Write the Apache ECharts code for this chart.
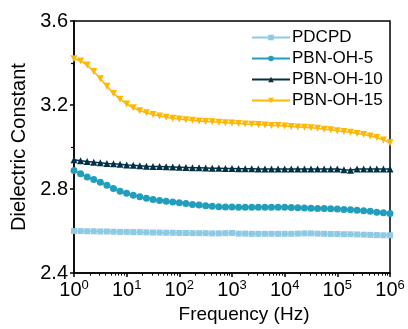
<!DOCTYPE html>
<html>
<head>
<meta charset="utf-8">
<script src="https://cdn.jsdelivr.net/npm/echarts@6/dist/echarts.min.js"></script>
<style>html,body{margin:0;padding:0;background:#fff;}#c{width:408px;height:329px;}</style>
</head>
<body>
<div id="c"></div>
<script>
const seriesNames = ['PDCPD', 'PBN-OH-5', 'PBN-OH-10', 'PBN-OH-15'];
const frequency = [
  1, 1.334, 1.778, 2.371, 3.162, 4.217, 5.623, 7.499,
  10, 13.34, 17.78, 23.71, 31.62, 42.17, 56.23, 74.99,
  100, 133.4, 177.8, 237.1, 316.2, 421.7, 562.3, 749.9,
  1000, 1334, 1778, 2371, 3162, 4217, 5623, 7499,
  10000, 13340, 17780, 23710, 31620, 42170, 56230, 74990,
  100000, 133400, 177800, 237100, 316200, 421700, 562300, 749900,
  1000000
];
const pdcpd = [
  2.600, 2.600, 2.599, 2.599, 2.598, 2.598, 2.597, 2.596,
  2.596, 2.595, 2.595, 2.594, 2.593, 2.593, 2.592, 2.592,
  2.591, 2.591, 2.590, 2.590, 2.590, 2.589, 2.589, 2.590,
  2.591, 2.588, 2.588, 2.587, 2.587, 2.587, 2.587, 2.587,
  2.587, 2.587, 2.588, 2.589, 2.589, 2.588, 2.587, 2.586,
  2.586, 2.585, 2.585, 2.584, 2.583, 2.582, 2.581, 2.580,
  2.580
];
const pbnOh5 = [
  2.888, 2.873, 2.858, 2.845, 2.833, 2.818, 2.803, 2.790,
  2.780, 2.771, 2.763, 2.756, 2.750, 2.746, 2.742, 2.738,
  2.735, 2.731, 2.727, 2.724, 2.721, 2.718, 2.716, 2.715,
  2.715, 2.714, 2.714, 2.714, 2.713, 2.713, 2.713, 2.713,
  2.713, 2.712, 2.711, 2.710, 2.709, 2.708, 2.707, 2.706,
  2.705, 2.703, 2.701, 2.699, 2.697, 2.694, 2.690, 2.687,
  2.684
];
const pbnOh10 = [
  2.940, 2.935, 2.931, 2.928, 2.925, 2.922, 2.920, 2.918,
  2.915, 2.913, 2.911, 2.909, 2.908, 2.907, 2.906, 2.905,
  2.904, 2.903, 2.902, 2.901, 2.900, 2.899, 2.899, 2.898,
  2.898, 2.897, 2.897, 2.897, 2.896, 2.896, 2.896, 2.896,
  2.896, 2.896, 2.895, 2.895, 2.895, 2.895, 2.895, 2.895,
  2.895, 2.892, 2.890, 2.895, 2.896, 2.896, 2.896, 2.896,
  2.896
];
const pbnOh15 = [
  3.420, 3.410, 3.390, 3.360, 3.325, 3.290, 3.255, 3.228,
  3.205, 3.187, 3.173, 3.163, 3.155, 3.148, 3.142, 3.137,
  3.133, 3.130, 3.127, 3.124, 3.122, 3.120, 3.118, 3.116,
  3.114, 3.112, 3.110, 3.109, 3.107, 3.105, 3.103, 3.102,
  3.100, 3.098, 3.096, 3.094, 3.092, 3.089, 3.085, 3.082,
  3.078, 3.074, 3.070, 3.065, 3.060, 3.053, 3.045, 3.034,
  3.020
];
const yTicks = [2.4, 2.8, 3.2, 3.6];
const xDecades = [1, 10, 100, 1000, 10000, 100000, 1000000];

const FONT = 'Liberation Sans, Arial, sans-serif';
const colors = ['#8ECAE6', '#219EBC', '#023047', '#FFB703'];
const symbols = ['rect', 'circle', 'triangle', 'triangle'];
const rotations = [0, 0, 0, 180];
const values = [pdcpd, pbnOh5, pbnOh10, pbnOh15];

const chart = echarts.init(document.getElementById('c'), null, { renderer: 'canvas' });
chart.setOption({
  animation: false,
  backgroundColor: '#fff',
  textStyle: { fontFamily: FONT },
  grid: {
    show: true, borderColor: '#000', borderWidth: 1.5, backgroundColor: 'transparent',
    left: 74, right: 18, top: 21, bottom: 54
  },
  legend: {
    orient: 'vertical',
    left: 246,
    top: 24,
    itemWidth: 38,
    itemHeight: 7,
    itemGap: 4,
    textStyle: { fontSize: 17, color: '#000', fontFamily: FONT, padding: [0, 0, 0, -3] },
    data: seriesNames
  },
  xAxis: {
    type: 'log',
    min: xDecades[0],
    max: xDecades[xDecades.length - 1],
    logBase: 10,
    name: 'Frequency (Hz)',
    nameLocation: 'middle',
    nameGap: 29,
    nameTextStyle: { fontSize: 19, color: '#000', fontFamily: FONT, padding: [0, 0, 0, 24] },
    axisLine: { lineStyle: { color: '#000', width: 1.5 } },
    axisTick: { inside: false, length: 4, lineStyle: { color: '#000', width: 1.5 } },
    minorTick: { show: true, splitNumber: 9, length: 2.5, lineStyle: { color: '#000', width: 1 } },
    splitLine: { show: false },
    minorSplitLine: { show: false },
    axisLabel: {
      margin: 6,
      color: '#000',
      formatter: function (v) {
        const e = Math.round(Math.log10(v));
        return '{b|10}{s|' + e + '}';
      },
      rich: {
        b: { fontSize: 20, fontFamily: FONT, color: '#000', lineHeight: 22 },
        s: { fontSize: 13, fontFamily: FONT, color: '#000', verticalAlign: 'top', lineHeight: 13 }
      }
    }
  },
  yAxis: {
    type: 'value',
    min: yTicks[0],
    max: yTicks[yTicks.length - 1],
    interval: 0.4,
    name: 'Dielectric Constant',
    nameLocation: 'middle',
    nameGap: 43,
    nameTextStyle: { fontSize: 20, color: '#000', fontFamily: FONT },
    axisLine: { show: true, lineStyle: { color: '#000', width: 1.5 } },
    axisTick: { show: true, inside: false, length: 4, lineStyle: { color: '#000', width: 1.5 } },
    minorTick: { show: true, splitNumber: 2, length: 3, lineStyle: { color: '#000', width: 1.2 } },
    splitLine: { show: false },
    minorSplitLine: { show: false },
    axisLabel: {
      margin: 6,
      fontSize: 20,
      color: '#000',
      fontFamily: FONT,
      formatter: function (v) { return v.toFixed(1); }
    }
  },
  series: seriesNames.map(function (name, k) {
    return {
      name: name,
      type: 'line',
      data: frequency.map(function (f, i) { return [f, values[k][i]]; }),
      symbol: symbols[k],
      symbolRotate: rotations[k],
      symbolSize: k === 0 ? 6 : 7,
      showAllSymbol: true,
      itemStyle: { color: colors[k] },
      lineStyle: { color: colors[k], width: 1.5 },
      z: 2 + k
    };
  })
});
</script>
</body>
</html>
